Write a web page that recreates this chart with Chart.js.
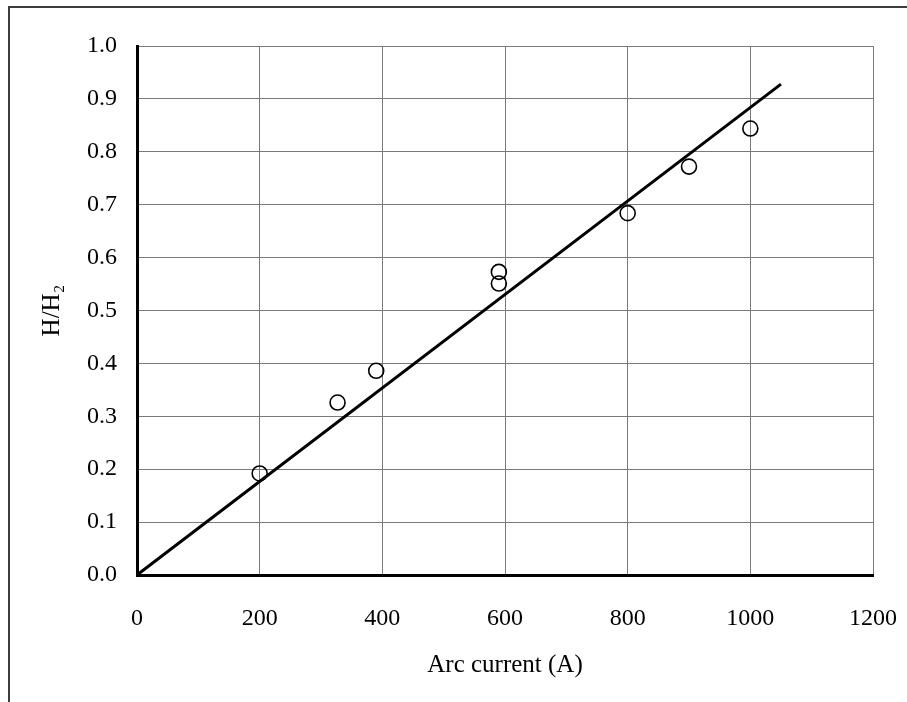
<!DOCTYPE html>
<html lang="en">

<head>
    <meta charset="UTF-8">
    <title>H/H2 vs Arc current</title>
    <style>
        body {
            margin: 0;
            background: #ffffff;
        }

        #frame {
            position: absolute;
            left: 8px;
            top: 6px;
            width: 899px;
            height: 696px;
            border-top: 2px solid #3c3c3c;
            border-left: 2px solid #3c3c3c;
        }

        #chart {
            position: absolute;
            left: 0;
            top: 0;
        }
    </style>
    <script src="https://cdn.jsdelivr.net/npm/chart.js"></script>
</head>

<body>
    <div id="frame"></div>
    <canvas id="chart" width="907" height="702"></canvas>

    <script>
        // measured points
        const arcCurrent = [200, 327, 390, 590, 590, 800, 900, 1000];
        const ratioH = [0.192, 0.326, 0.386, 0.573, 0.551, 0.684, 0.772, 0.844];

        // fitted line through the origin
        const fitX = [0, 1050];
        const fitY = [0, 0.928];

        const gridGray = "#7a7a7a";
        const tickFont = { family: "'Liberation Serif', 'Times New Roman', serif", size: 24 };
        const titleFont = { family: "'Liberation Serif', 'Times New Roman', serif", size: 25 };

        const points = arcCurrent.map((x, i) => ({ x: x, y: ratioH[i] }));
        const fit = fitX.map((x, i) => ({ x: x, y: fitY[i] }));

        // no gridline on the axis itself, the thick border covers it
        const gridColor = c => (c.tick && c.tick.value === 0 ? "rgba(0,0,0,0)" : gridGray);

        new Chart(document.getElementById("chart"), {
            type: "scatter",
            data: {
                datasets: [
                    {
                        label: "data",
                        data: points,
                        pointStyle: "circle",
                        pointRadius: 7.5,
                        pointBorderWidth: 1.6,
                        pointBorderColor: "#000000",
                        pointBackgroundColor: "rgba(0,0,0,0)",
                        showLine: false,
                    },
                    {
                        label: "fit",
                        data: fit,
                        showLine: true,
                        borderColor: "#000000",
                        borderWidth: 3,
                        pointRadius: 0,
                        fill: false,
                    },
                ],
            },
            options: {
                responsive: false,
                devicePixelRatio: 1,
                animation: false,
                layout: {
                    padding: { left: 0, top: 46, right: 34, bottom: 0 },
                },
                plugins: {
                    legend: { display: false },
                    tooltip: { enabled: false },
                },
                scales: {
                    x: {
                        type: "linear",
                        min: 0,
                        max: 1200,
                        ticks: {
                            stepSize: 200,
                            maxRotation: 0,
                            padding: 29,
                            color: "#000000",
                            font: tickFont,
                            callback: v => String(v),
                        },
                        grid: {
                            color: gridColor,
                            lineWidth: 1,
                            drawTicks: false,
                        },
                        border: { color: "#000000", width: 3 },
                        title: {
                            display: true,
                            text: "Arc current (A)",
                            color: "#000000",
                            font: titleFont,
                            padding: { top: 0, bottom: 22 },
                        },
                        afterFit: scale => {
                            scale.height = 127;
                            scale.paddingLeft = 0;
                            scale.paddingRight = 0;
                        },
                    },
                    y: {
                        type: "linear",
                        min: 0,
                        max: 1,
                        ticks: {
                            stepSize: 0.1,
                            padding: 20,
                            color: "#000000",
                            font: tickFont,
                            callback: v => Number(v).toFixed(1),
                        },
                        grid: {
                            color: gridColor,
                            lineWidth: 1,
                            drawTicks: false,
                        },
                        border: { color: "#000000", width: 3 },
                        title: {
                            display: true,
                            text: "H/H₂",
                            color: "#000000",
                            font: titleFont,
                            padding: { top: 37, bottom: 0 },
                        },
                        afterFit: scale => {
                            scale.width = 137;
                            scale.paddingTop = 0;
                            scale.paddingBottom = 0;
                        },
                    },
                },
            },
        });
    </script>
</body>

</html>
